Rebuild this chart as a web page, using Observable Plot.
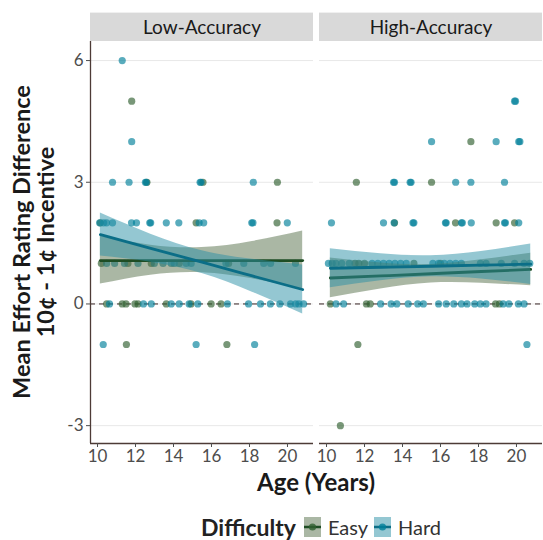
<!DOCTYPE html>
<html><head><meta charset="utf-8">
<script src="https://cdn.jsdelivr.net/npm/d3@7"></script>
<script src="https://cdn.jsdelivr.net/npm/@observablehq/plot@0.6"></script>
<style>
body{margin:0;background:#fff;font-family:Lato,"Noto Sans",sans-serif;}
#wrap{position:relative;width:543px;height:540px;overflow:hidden;}
#legend{position:absolute;left:201px;top:514px;height:26px;display:flex;align-items:center;color:#222;line-height:1;}
#legend .t{font-weight:700;font-size:23px;margin-right:8px;}
#legend .k{font-size:20px;margin-left:7px;margin-right:6px;color:#333;}
</style></head><body><div id="wrap"><div id="chart"></div><div id="legend"></div></div>
<script>
const panels = ["Low-Accuracy", "High-Accuracy"];
const difficulties = ["Easy", "Hard"];
const yTicks = [-3, 0, 3, 6];
const xTicks = [10, 12, 14, 16, 18, 20];

// points: [age, value]
const lowEasy = [
  [11.8,5],
  [12.6,3],[15.55,3],[19.47,3],
  [10.15,2],[15.19,2],[19.45,2],
  [10.2,1],[11.6,1],[12.83,1],[14.3,1],[16.9,1],
  [10.48,0],[11.3,0],[11.5,0],[11.97,0],[12.13,0],[13.62,0],[14.92,0],[15.98,0],[16.5,0],
  [11.52,-1],[16.81,-1]
];
const lowHard = [
  [11.3,6],[11.8,4],
  [10.79,3],[11.66,3],[12.52,3],[12.57,3],[15.4,3],[15.45,3],[18.2,3],
  [10.11,2],[10.32,2],[10.48,2],[10.79,2],[11.79,2],[12.05,2],[12.75,2],[12.8,2],[13.62,2],[14.28,2],[15.35,2],[15.59,2],[18.12,2],[18.18,2],[19.99,2],
  [10.48,1],[10.9,1],[11.42,1],[12.13,1],[12.99,1],[13.45,1],[13.88,1],[14.04,1],[14.67,1],[14.93,1],[16.76,1],[17.7,1],[18.75,1],[19.11,1],[20.42,1],
  [10.63,0],[12.42,0],[12.83,0],[13.88,0],[14.3,0],[14.82,0],[15.28,0],[16.84,0],[17.95,0],[18.58,0],[19.1,0],[19.6,0],[20.16,0],[20.43,0],[20.6,0],[20.85,0],
  [10.3,-1],[15.19,-1],[18.27,-1]
];
const highEasy = [
  [17.6,4],
  [11.57,3],[15.53,3],
  [13.58,2],[16.79,2],[18.93,2],[19.9,2],
  [11.5,1],[11.7,1],[12.0,1],[14.6,1],[16.0,1],
  [10.2,0],[12.1,0],[12.3,0],[18.9,0],[19.1,0],
  [11.65,-1],
  [10.73,-3]
];
const highHard = [
  [19.9,5],[19.95,5],
  [15.53,4],[18.93,4],[20.12,4],[20.18,4],
  [13.53,3],[13.58,3],[14.4,3],[14.45,3],[16.8,3],[17.6,3],[19.37,3],
  [10.26,2],[13.0,2],[13.56,2],[14.55,2],[14.6,2],[16.26,2],[16.3,2],[17.1,2],[17.15,2],[17.62,2],[19.37,2],[19.42,2],[20.12,2],
  [10.1,1],[10.3,1],[10.5,1],[10.8,1],[11.2,1],[12.4,1],[12.7,1],[13.0,1],[13.3,1],[13.6,1],[13.9,1],[14.2,1],[15.6,1],[15.9,1],[16.2,1],[16.5,1],[16.8,1],[17.1,1],[18.1,1],[18.4,1],[19.2,1],[19.9,1],[20.4,1],[20.7,1],
  [10.5,0],[10.9,0],[12.85,0],[13.4,0],[13.7,0],[14.3,0],[14.8,0],[15.1,0],[15.9,0],[16.3,0],[16.7,0],[17.1,0],[17.4,0],[17.8,0],[18.1,0],[18.4,0],[19.3,0],[19.6,0],[20.1,0],[20.4,0],
  [20.55,-1]
];

// fitted lines and 95% bands
const lowAges  = [10.15, 12.8, 15.5, 18.15, 20.8];
const lowEasyFit = [1.07, 1.07, 1.07, 1.07, 1.07];
const lowEasyLo  = [0.49, 0.71, 0.77, 0.62, 0.36];
const lowEasyHi  = [1.67, 1.45, 1.39, 1.54, 1.80];
const lowHardFit = [1.71, 1.37, 1.03, 0.69, 0.355];
const lowHardLo  = [1.18, 1.03, 0.75, 0.29, -0.25];
const lowHardHi  = [2.24, 1.72, 1.31, 1.10, 0.96];
const highAges = [10.2, 12.85, 15.5, 18.15, 20.75];
const highEasyFit = [0.64, 0.69, 0.745, 0.80, 0.85];
const highEasyLo  = [0.15, 0.37, 0.515, 0.51, 0.45];
const highEasyHi  = [1.13, 1.01, 0.975, 1.09, 1.25];
const highHardFit = [0.88, 0.905, 0.93, 0.955, 0.98];
const highHardLo  = [0.40, 0.575, 0.67, 0.615, 0.48];
const highHardHi  = [1.36, 1.235, 1.19, 1.295, 1.48];

const xDomain = [9.63, 21.37];
const yDomain = [-3.44, 6.47];

const pointColor = {Easy: "#2f5f2f", Hard: "#00809a"};
const bandColor = {Easy: "#55704a", Hard: "#2a8fa6"};
const lineColor = {Easy: "#1e4d24", Hard: "#0b6e87"};
const axisColor = "#4d3b36";

const toRows = (panel, diff, pts) => pts.map(([age, value]) => ({panel, diff, age, value}));
const points = [
  ...toRows(panels[0], "Easy", lowEasy), ...toRows(panels[0], "Hard", lowHard),
  ...toRows(panels[1], "Easy", highEasy), ...toRows(panels[1], "Hard", highHard)
];
const toBand = (panel, diff, ages, fit, lo, hi) => ages.map((age, i) => ({panel, diff, age, fit: fit[i], lo: lo[i], hi: hi[i]}));
const bands = {
  Easy: [...toBand(panels[0], "Easy", lowAges, lowEasyFit, lowEasyLo, lowEasyHi), ...toBand(panels[1], "Easy", highAges, highEasyFit, highEasyLo, highEasyHi)],
  Hard: [...toBand(panels[0], "Hard", lowAges, lowHardFit, lowHardLo, lowHardHi), ...toBand(panels[1], "Hard", highAges, highHardFit, highHardLo, highHardHi)]
};

const bandMarks = [];
for (const d of difficulties) {
  bandMarks.push(Plot.areaY(bands[d], {fx: "panel", x: "age", y1: "lo", y2: "hi", fill: bandColor[d], fillOpacity: 0.5, curve: "natural", z: "panel"}));
  bandMarks.push(Plot.line(bands[d], {fx: "panel", x: "age", y: "fit", stroke: lineColor[d], strokeWidth: 2.8, curve: "natural", z: "panel"}));
}

const chart = Plot.plot({
  width: 543, height: 514,
  marginLeft: 89.3, marginRight: 0, marginTop: 41, marginBottom: 71,
  style: {fontFamily: "Lato, 'Noto Sans', sans-serif", background: "#fff"},
  fx: {domain: panels, paddingInner: 0.027, paddingOuter: 0, axis: null, label: null},
  x: {domain: xDomain},
  y: {domain: yDomain},
  marks: [
    Plot.rect(panels, {fx: d => d, y1: yDomain[1], y2: yDomain[1] + 0.70, fill: "#d9d9d9"}),
    Plot.text(panels, {fx: d => d, text: d => d, frameAnchor: "top", lineAnchor: "middle", dy: -14, fontSize: 19, fill: "#1a1a1a"}),
    Plot.gridY(yTicks, {stroke: "#e8e8e8", strokeOpacity: 1}),
    Plot.ruleY([0], {stroke: "#3a2626", strokeDasharray: "5,4", strokeWidth: 1}),
    Plot.dot(points, {fx: "panel", x: "age", y: "value", r: 3.6, fill: d => pointColor[d.diff], fillOpacity: 0.65, stroke: null}),
    ...bandMarks,
    Plot.ruleY([yDomain[0]], {stroke: axisColor, strokeWidth: 1.3}),
    Plot.ruleX([{panel: panels[0]}], {fx: "panel", x: () => xDomain[0], stroke: axisColor, strokeWidth: 1.3}),
    Plot.axisY(yTicks, {tickSize: 4, tickPadding: 3, fontSize: 17, label: null, color: "#4d4d4d", tickFormat: d => String(d)}),
    Plot.axisX(xTicks, {tickSize: 4, tickPadding: 2, fontSize: 17, label: null, color: "#4d4d4d", tickFormat: d => String(d)})
  ]
});

const svg = d3.select(chart);
const tg = svg.append("g").attr("font-family", "Lato, 'Noto Sans', sans-serif").attr("font-weight", 700).attr("fill", "#1a1a1a").attr("text-anchor", "middle");
tg.append("text").attr("transform", "translate(30,242) rotate(-90)").attr("font-size", 23.5).text("Mean Effort Rating Difference");
tg.append("text").attr("transform", "translate(54,242) rotate(-90)").attr("font-size", 23.5).text("10¢ - 1¢ Incentive");
tg.append("text").attr("x", 316).attr("y", 491).attr("font-size", 24).text("Age (Years)");

document.getElementById("chart").appendChild(chart);

// legend
const legend = d3.select("#legend");
legend.append("span").attr("class", "t").text("Difficulty");
for (const d of difficulties) {
  const s = legend.append("svg").attr("width", 17).attr("height", 20);
  s.append("rect").attr("width", 17).attr("height", 20).attr("fill", bandColor[d]).attr("fill-opacity", 0.5);
  s.append("line").attr("x1", 0).attr("x2", 17).attr("y1", 10).attr("y2", 10).attr("stroke", lineColor[d]).attr("stroke-width", 2.5);
  s.append("circle").attr("cx", 8.5).attr("cy", 10).attr("r", 3.6).attr("fill", pointColor[d]).attr("fill-opacity", 0.8);
  legend.append("span").attr("class", "k").text(d);
}
</script></body></html>
